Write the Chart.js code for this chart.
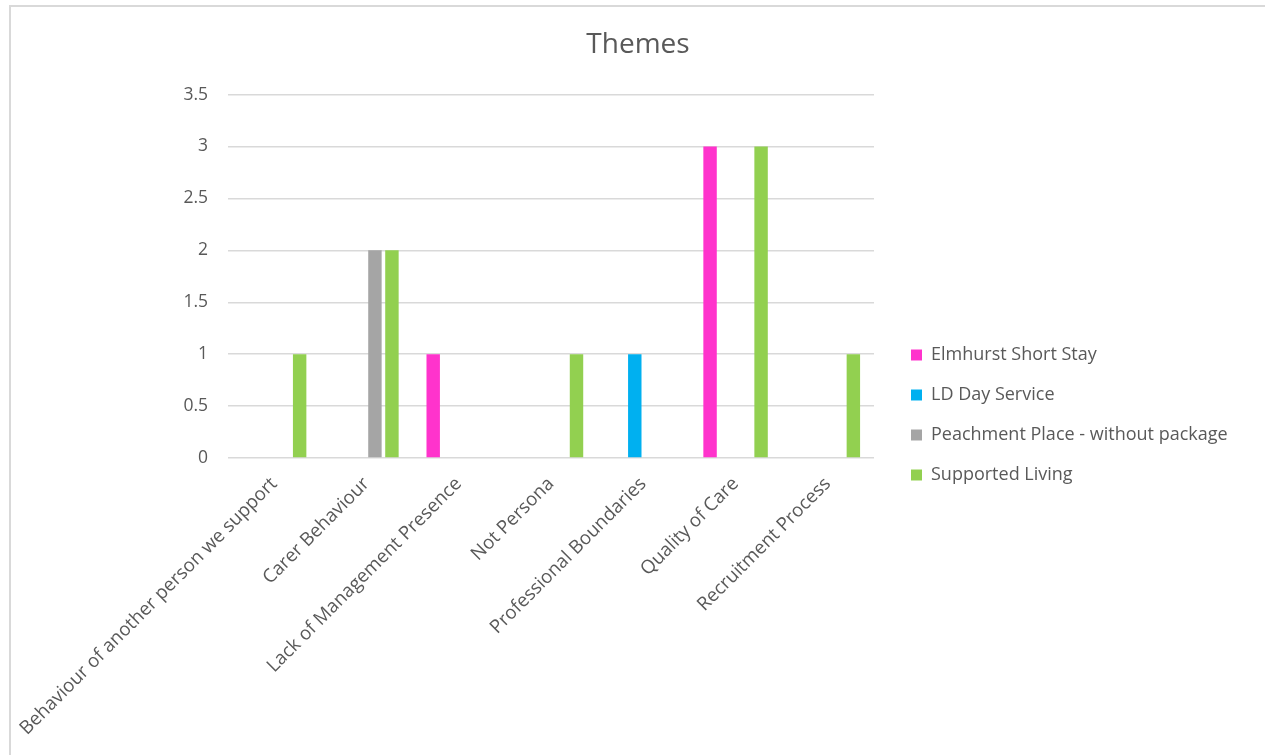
<!DOCTYPE html>
<html>
<head>
<meta charset="utf-8">
<script src="https://cdn.jsdelivr.net/npm/chart.js@4/dist/chart.umd.min.js"></script>
<style>
  html, body { margin: 0; padding: 0; background: #ffffff; }
  body { width: 1265px; height: 755px; overflow: hidden; position: relative; }
  #frame {
    position: absolute; left: 9px; top: 5px; width: 1300px; height: 800px;
    border-left: 2px solid #d9d9d9; border-top: 2px solid #d9d9d9;
  }
  #wrap { position: absolute; left: 11px; top: 7px; width: 1254px; height: 748px; }
</style>
</head>
<body>
<div id="frame"></div>
<div id="wrap"><canvas id="chart"></canvas></div>
<script>
// Themes raised, counted per service
const categories = [
  'Behaviour of another person we support',
  'Carer Behaviour',
  'Lack of Management Presence',
  'Not Persona',
  'Professional Boundaries',
  'Quality of Care',
  'Recruitment Process'
];
const elmhurstShortStay = [null, null, 1, null, null, 3, null];
const ldDayService = [null, null, null, null, 1, null, null];
const peachmentPlace = [null, 2, null, null, null, null, null];
const supportedLiving = [1, 2, null, 1, null, 3, 1];
const yTicks = [0, 0.5, 1, 1.5, 2, 2.5, 3, 3.5];

const textColor = '#595959';
const fontFamily = "'Open Sans', 'DejaVu Sans', sans-serif";

// fixed-width legend column on the right, items inset from the plot edge
const legendColumn = {
  id: 'legendColumn',
  afterInit(chart) {
    const lg = chart.legend;
    if (!lg) return;
    const fit = lg.fit.bind(lg);
    lg.fit = function () { fit(); this.width = 391; };
  },
  afterLayout(chart) {
    const lg = chart.legend;
    if (!lg) return;
    lg.left += 15;
    lg.right += 15;
    lg.top += 34;
    lg.bottom += 34;
  }
};

new Chart(document.getElementById('chart'), {
  type: 'bar',
  data: {
    labels: categories,
    datasets: [
      { label: 'Elmhurst Short Stay', data: elmhurstShortStay, backgroundColor: '#ff33cc' },
      { label: 'LD Day Service', data: ldDayService, backgroundColor: '#00b0f0' },
      { label: 'Peachment Place - without package', data: peachmentPlace, backgroundColor: '#a5a5a5' },
      { label: 'Supported Living', data: supportedLiving, backgroundColor: '#92d050' }
    ]
  },
  options: {
    responsive: true,
    maintainAspectRatio: false,
    animation: false,
    categoryPercentage: 0.737,
    barPercentage: 0.79,
    layout: { padding: 0 },
    plugins: {
      title: {
        display: true,
        text: 'Themes',
        color: textColor,
        font: { family: fontFamily, size: 28, weight: 'normal' },
        padding: { top: 21, bottom: 33 }
      },
      legend: {
        position: 'right',
        align: 'center',
        labels: {
          color: textColor,
          boxWidth: 11,
          boxHeight: 11,
          padding: 22,
          font: { family: fontFamily, size: 18 }
        }
      },
      tooltip: { enabled: false }
    },
    scales: {
      x: {
        afterFit(scale) {
          scale.paddingLeft = 0;
          scale.paddingRight = 0;
          scale.height = 297;
        },
        grid: { display: false, drawTicks: false },
        border: { display: false },
        ticks: {
          color: textColor,
          font: { family: fontFamily, size: 18.7 },
          minRotation: 45,
          maxRotation: 45,
          autoSkip: false,
          padding: 15
        }
      },
      y: {
        min: 0,
        max: 3.5,
        afterBuildTicks(scale) { scale.ticks = yTicks.map(v => ({ value: v })); },
        afterFit(scale) { scale.width = 217; },
        grid: { color: '#d9d9d9', lineWidth: 1.5, drawTicks: false },
        border: { display: false },
        ticks: {
          color: textColor,
          font: { family: fontFamily, size: 17.5 },
          padding: 20,
          callback: v => String(v)
        }
      }
    }
  },
  plugins: [legendColumn]
});
</script>
</body>
</html>
